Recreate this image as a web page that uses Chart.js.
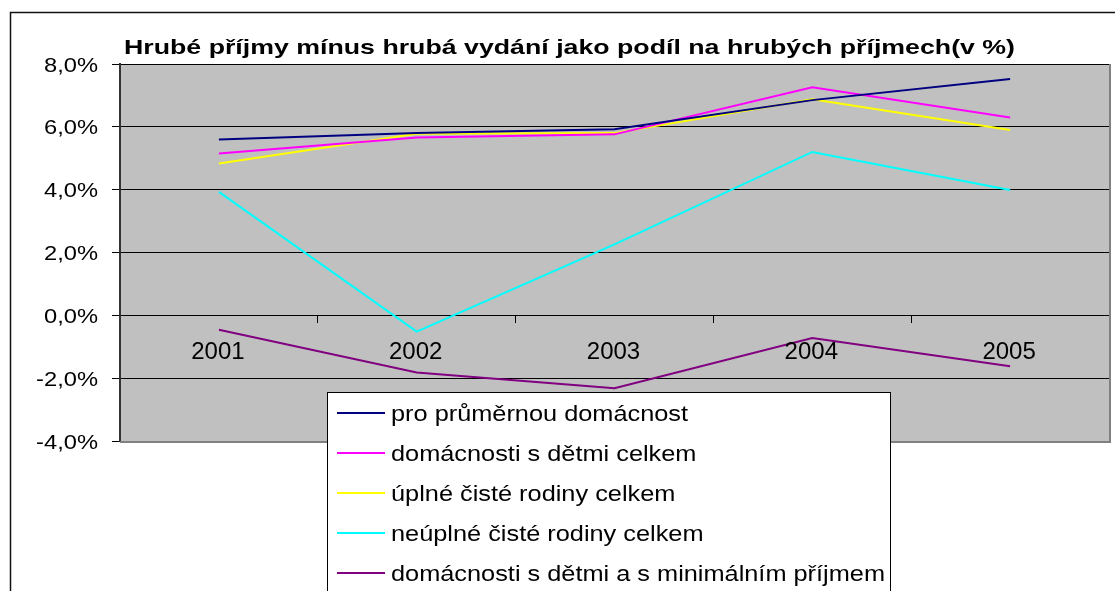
<!DOCTYPE html>
<html>
<head>
<meta charset="utf-8">
<script src="https://cdn.jsdelivr.net/npm/chart.js@4.4.1/dist/chart.umd.min.js"></script>
<style>
html,body{margin:0;padding:0;background:#fff;overflow:hidden;}
#wrap{position:absolute;left:0;top:0;width:1115px;height:591px;}
</style>
</head>
<body>
<div id="wrap"><canvas id="c" width="1115" height="591"></canvas></div>
<script>
const titleText = 'Hrubé příjmy mínus hrubá vydání jako podíl na hrubých příjmech(v %)';
const categories = ['2001', '2002', '2003', '2004', '2005'];
const seriesNames = [
  'pro průměrnou domácnost',
  'domácnosti s dětmi celkem',
  'úplné čisté rodiny celkem',
  'neúplné čisté rodiny celkem',
  'domácnosti s dětmi a s minimálním příjmem'
];
const prumernaDomacnost = [5.60, 5.80, 5.92, 6.85, 7.52];
const domacnostiSDetmi = [5.15, 5.66, 5.76, 7.26, 6.30];
const upleRodiny = [4.83, 5.78, 5.80, 6.88, 5.90];
const neupleRodiny = [3.93, -0.52, 2.26, 5.20, 3.99];
const minimalniPrijem = [-0.46, -1.82, -2.32, -0.72, -1.62];
const yTicks = [-4, -2, 0, 2, 4, 6, 8];
const seriesColors = ['#000080', '#FF00FF', '#FFFF00', '#00FFFF', '#800080'];

const FONT = '"Liberation Sans", Arial, sans-serif';
const seriesData = [prumernaDomacnost, domacnostiSDetmi, upleRodiny, neupleRodiny, minimalniPrijem];
const fmtPct = v => v.toFixed(1).replace('.', ',') + '%';

function drawStretched(ctx, text, x, y, sx, align) {
  const w = ctx.measureText(text).width * sx;
  let left = x;
  if (align === 'right') left = x - w;
  else if (align === 'center') left = x - w / 2;
  ctx.save();
  ctx.translate(left, y);
  ctx.scale(sx, 1);
  ctx.textAlign = 'left';
  ctx.fillText(text, 0, 0);
  ctx.restore();
}

const decor = {
  id: 'decor',
  beforeDraw(chart) {
    const ctx = chart.ctx, a = chart.chartArea;
    ctx.save();
    ctx.fillStyle = '#fff';
    ctx.fillRect(0, 0, chart.width, chart.height);
    ctx.strokeStyle = '#111';
    ctx.lineWidth = 1.5;
    ctx.beginPath();
    ctx.moveTo(10.5, chart.height + 5);
    ctx.lineTo(10.5, 12.5);
    ctx.lineTo(chart.width + 5, 12.5);
    ctx.stroke();
    ctx.fillStyle = '#C0C0C0';
    ctx.fillRect(a.left, a.top, a.right - a.left, a.bottom - a.top);
    ctx.restore();
  },
  afterDatasetsDraw(chart) {
    const ctx = chart.ctx, a = chart.chartArea;
    const xs = chart.scales.x, ys = chart.scales.y;
    ctx.save();
    ctx.strokeStyle = '#808080';
    ctx.lineWidth = 2;
    ctx.beginPath();
    ctx.moveTo(a.left, a.bottom + 1);
    ctx.lineTo(a.right + 1, a.bottom + 1);
    ctx.lineTo(a.right + 1, a.top);
    ctx.stroke();
    ctx.fillStyle = '#000';
    ctx.textBaseline = 'alphabetic';

    // y tick labels
    ctx.font = '20px ' + FONT;
    const ySx = 54 / ctx.measureText(fmtPct(8)).width;
    yTicks.forEach(v => {
      drawStretched(ctx, fmtPct(v), 98, ys.getPixelForValue(v) + 7.5, ySx, 'right');
    });
    // x tick labels
    ctx.font = '24px ' + FONT;
    const y0 = ys.getPixelForValue(0);
    categories.forEach((c, i) => {
      drawStretched(ctx, c, xs.getPixelForValue(i) - 1, y0 + 44, 1, 'center');
    });
    // title
    ctx.font = 'bold 21px ' + FONT;
    const tSx = 891 / ctx.measureText(titleText).width;
    drawStretched(ctx, titleText, 124, 53.5, tSx, 'left');

    // legend
    const lx = 327.5, ly = 392.5, lw = 563, lh = 220;
    ctx.fillStyle = '#fff';
    ctx.fillRect(lx, ly, lw, lh);
    ctx.strokeStyle = '#000';
    ctx.lineWidth = 1;
    ctx.strokeRect(lx, ly, lw, lh);
    ctx.font = '22px ' + FONT;
    const longest = Math.max(...chart.data.datasets.map(d => ctx.measureText(d.label).width));
    const lSx = 494 / longest;
    chart.data.datasets.forEach((ds, i) => {
      const y = 413 + i * 40;
      ctx.strokeStyle = ds.borderColor;
      ctx.lineWidth = 2;
      ctx.beginPath();
      ctx.moveTo(337, y);
      ctx.lineTo(385, y);
      ctx.stroke();
      ctx.fillStyle = '#000';
      drawStretched(ctx, ds.label, 391, y + 8, lSx, 'left');
    });
    ctx.restore();
  }
};

new Chart(document.getElementById('c'), {
  type: 'line',
  data: {
    labels: categories,
    datasets: seriesNames.map((n, i) => ({
      label: n,
      data: seriesData[i],
      borderColor: seriesColors[i],
      backgroundColor: seriesColors[i],
      borderWidth: 2,
      pointRadius: 0,
      tension: 0,
      fill: false
    }))
  },
  options: {
    responsive: false,
    animation: false,
    devicePixelRatio: 1,
    layout: { padding: { left: 0, top: 64, right: 6, bottom: 150 } },
    plugins: { legend: { display: false }, title: { display: false }, tooltip: { enabled: false } },
    scales: {
      x: {
        type: 'category',
        position: { y: 0 },
        offset: true,
        grid: { display: true, drawOnChartArea: false, color: '#000', tickLength: 8, offset: true, lineWidth: 1 },
        border: { display: false },
        ticks: { color: 'rgba(0,0,0,0)', font: { family: FONT, size: 19 }, padding: 14, maxRotation: 0 }
      },
      y: {
        min: -4, max: 8,
        afterBuildTicks(scale) { scale.ticks = yTicks.map(v => ({ value: v })); },
        afterFit(scale) { scale.width = 120; },
        grid: { color: '#000', lineWidth: 1, tickLength: 8 },
        border: { display: true, color: '#333', width: 2 },
        ticks: {
          color: 'rgba(0,0,0,0)',
          font: { family: FONT, size: 19 },
          padding: 13,
          callback: v => fmtPct(v)
        }
      }
    }
  },
  plugins: [decor]
});
</script>
</body>
</html>
